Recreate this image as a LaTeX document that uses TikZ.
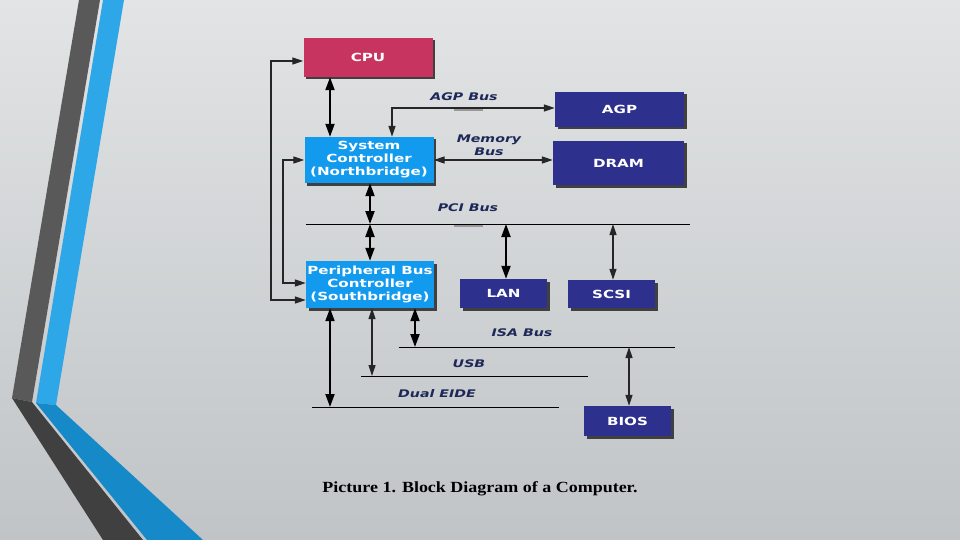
\documentclass[tikz,border=0pt]{standalone}
\usepackage{fontspec}
\setmainfont{Liberation Serif}
\newfontfamily\diafont[FakeStretch=1.35]{DejaVu Sans}
\newfontfamily\capfont[FakeStretch=1.16]{Liberation Serif}
\usetikzlibrary{arrows.meta,shadows}
\definecolor{cpured}{RGB}{200,52,96}
\definecolor{bridgeblue}{RGB}{18,154,238}
\definecolor{devnavy}{RGB}{46,48,142}
\definecolor{busnavy}{RGB}{30,40,88}
\definecolor{stripedark}{RGB}{89,89,89}
\definecolor{stripedeep}{RGB}{64,64,64}
\definecolor{stripeblue}{RGB}{46,167,233}
\definecolor{stripesea}{RGB}{22,137,201}

\begin{document}
\begin{tikzpicture}[x=1pt,y=-1pt]
  \tikzset{chip/.style={text=white, align=center, inner sep=0pt,
      font=\diafont\bfseries\fontsize{11.2}{13}\selectfont,
      general shadow={fill=black!75, shadow xshift=2.5pt, shadow yshift=-2.5pt}},
    bus/.style={line width=1pt, black},
    link/.style={line width=1.2pt, black!85, {Triangle[length=11pt,width=7pt]}-{Triangle[length=11pt,width=7pt]}},
    biglink/.style={line width=2pt, black, {Triangle[length=13pt,width=9pt]}-{Triangle[length=13pt,width=9pt]}},
    buslabel/.style={text=busnavy, align=center, inner sep=0pt,
      font=\diafont\bfseries\itshape\fontsize{10.5}{13}\selectfont}}
  \fill[top color={rgb,255:red,226;green,228;blue,229}, middle color={rgb,255:red,222;green,224;blue,225},
    bottom color={rgb,255:red,192;green,196;blue,198}] (0,0) rectangle (960,540);
  \fill[stripedark] (79,0) -- (100,0) -- (32,402) -- (12,398) -- cycle;
  \fill[stripedeep] (12,398) -- (32,402) -- (143,540) -- (103,540) -- cycle;
  \fill[stripeblue] (103,0) -- (124,0) -- (56,405) -- (36,403) -- cycle;
  \fill[stripesea] (36,403) -- (56,405) -- (203,540) -- (147,540) -- cycle;

  \node[chip, fill=cpured, minimum width=129pt, minimum height=39pt] (cpu) at (368,57.5) {CPU};
  \node[chip, fill=bridgeblue, minimum width=129pt, minimum height=46pt] (nb) at (369,160) {System\\Controller\\(Northbridge)};
  \node[chip, fill=devnavy, minimum width=129pt, minimum height=35pt] (agp) at (619.5,109.5) {AGP};
  \node[chip, fill=devnavy, minimum width=131pt, minimum height=44pt] (dram) at (618.5,163) {DRAM};
  \node[chip, fill=bridgeblue, minimum width=128pt, minimum height=47pt] (sb) at (370,284.5) {Peripheral Bus\\Controller\\(Southbridge)};
  \node[chip, fill=devnavy, minimum width=87pt, minimum height=29pt] (lan) at (503.5,293.5) {LAN};
  \node[chip, fill=devnavy, minimum width=87pt, minimum height=28pt] (scsi) at (611.5,294) {SCSI};
  \node[chip, fill=devnavy, minimum width=87pt, minimum height=30pt] (bios) at (627.5,421) {BIOS};

  \node[buslabel] (agplabel) at (464,97) {AGP Bus};
  \node[buslabel] (memlabel) at (489,145) {Memory\\Bus};
  \node[buslabel] (pcilabel) at (468,208) {PCI Bus};
  \node[buslabel] (isalabel) at (522,333) {ISA Bus};
  \node[buslabel] (usblabel) at (469,364) {USB};
  \node[buslabel] (eidelabel) at (437,394) {Dual EIDE};

  \coordinate (pciL) at (306,224);  \coordinate (pciR) at (690,224);
  \coordinate (isaL) at (399,347);  \coordinate (isaR) at (675,347);
  \coordinate (usbL) at (361,376);  \coordinate (usbR) at (588,376);
  \coordinate (eideL) at (312,407); \coordinate (eideR) at (559,407);
  \fill[black!40] (454,108.5) rectangle (483,111);
  \fill[black!40] (454,224.5) rectangle (483,227);
  \draw[bus] (pciL) -- (pciR);
  \draw[bus] (isaL) -- (isaR);
  \draw[bus] (usbL) -- (usbR);
  \draw[bus] (eideL) -- (eideR);

  \coordinate (cpunb) at (330,100);
  \coordinate (agpbend) at (392,108);
  \coordinate (pcinb) at (370,224);
  \coordinate (pcilan) at (506,224);
  \coordinate (pciscsi) at (613,224);
  \coordinate (isasb) at (415,347);
  \coordinate (usbsb) at (372,376);
  \coordinate (eidesb) at (330,407);
  \coordinate (isabios) at (629,347);
  \coordinate (outerS) at (271,300); \coordinate (outerN) at (271,61);
  \coordinate (innerS) at (283,283); \coordinate (innerN) at (283,160);

  \draw[biglink] (cpu.south -| cpunb) -- (nb.north -| cpunb);
  \draw[link] (nb.north -| agpbend) -- (agpbend) -- (agpbend -| agp.west);
  \draw[link] (innerN -| nb.east) -- (innerN -| dram.west);
  \draw[link] (outerS -| sb.west) -- (outerS) -- (outerN) -- (outerN -| cpu.west);
  \draw[link] (innerS -| sb.west) -- (innerS) -- (innerN) -- (innerN -| nb.west);
  \draw[biglink] (nb.south -| pcinb) -- (pcinb);
  \draw[biglink] (pcinb) -- (sb.north -| pcinb);
  \draw[biglink] (pcilan) -- (lan.north -| pcilan);
  \draw[link] (pciscsi) -- (scsi.north -| pciscsi);
  \draw[biglink] (sb.south -| isasb) -- (isasb);
  \draw[link] (sb.south -| usbsb) -- (usbsb);
  \draw[biglink] (sb.south -| eidesb) -- (eidesb);
  \draw[link] (isabios) -- (bios.north -| isabios);

  \node[font=\capfont\bfseries\fontsize{15.5}{18}\selectfont, inner sep=0pt] (caption) at (480,489) {Picture 1. Block Diagram of a Computer.};
\end{tikzpicture}
\end{document}
